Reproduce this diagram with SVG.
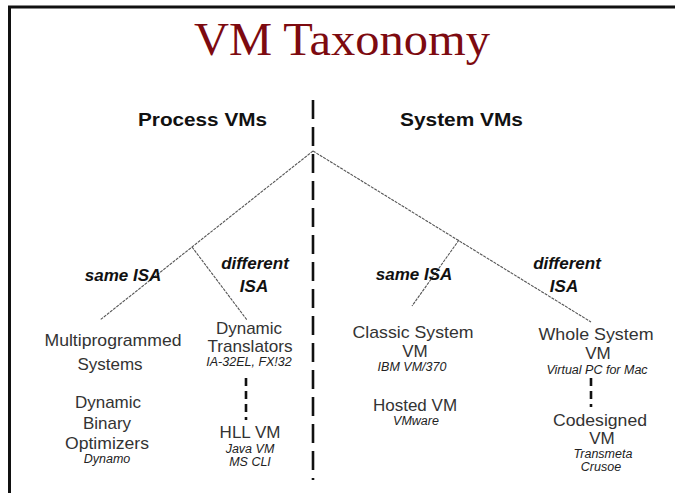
<svg xmlns="http://www.w3.org/2000/svg" width="675" height="493" viewBox="0 0 675 493">
<style>
.frame{fill:none;stroke:#111;stroke-width:3}
.title{font-family:"Liberation Serif","Times New Roman",serif;font-size:46px;fill:#7d0a10}
.head{font-family:"Liberation Sans",Arial,sans-serif;font-size:18px;font-weight:bold;fill:#111}
.isa{font-family:"Liberation Sans",Arial,sans-serif;font-size:17px;font-weight:bold;font-style:italic;fill:#111;text-anchor:middle}
.lbl{font-family:"Liberation Sans",Arial,sans-serif;font-size:17px;fill:#333;text-anchor:middle}
.ex{font-family:"Liberation Sans",Arial,sans-serif;font-size:12.5px;font-style:italic;fill:#222;text-anchor:middle}
.tree{stroke:#555;stroke-width:1.1;fill:none;stroke-dasharray:3 1}
.divider{stroke:#111;stroke-width:2.6;stroke-dasharray:19 8;fill:none}
.link{stroke:#111;stroke-width:2.6;stroke-dasharray:8 5;fill:none}
</style>
<rect width="675" height="493" fill="#fff"/>
<rect class="frame" x="9.5" y="7" width="700" height="520"/>
<text class="title" x="194" y="55" textLength="296" lengthAdjust="spacingAndGlyphs">VM Taxonomy</text>
<text class="head" x="138" y="126" textLength="129" lengthAdjust="spacingAndGlyphs">Process VMs</text>
<text class="head" x="400" y="126" textLength="123" lengthAdjust="spacingAndGlyphs">System VMs</text>
<g id="connectors">
<line class="divider" x1="313" y1="100" x2="313" y2="480"/>
<line class="tree" x1="313" y1="151" x2="100" y2="320"/>
<line class="tree" x1="192" y1="247" x2="247" y2="320"/>
<line class="tree" x1="313" y1="151" x2="591" y2="322"/>
<line class="tree" x1="459" y1="240" x2="412" y2="306"/>
<line class="link" x1="246" y1="378" x2="246" y2="420"/>
<line class="link" x1="591" y1="378" x2="591" y2="407"/>
</g>
<g id="label-same-isa-left"><text class="isa" x="123" y="281">same ISA</text></g>
<g id="label-different-isa-left"><text class="isa" x="255" y="269">different</text><text class="isa" x="254" y="292">ISA</text></g>
<g id="label-same-isa-right"><text class="isa" x="414" y="280">same ISA</text></g>
<g id="label-different-isa-right"><text class="isa" x="567" y="269">different</text><text class="isa" x="564" y="292">ISA</text></g>
<g id="node-multiprogrammed"><text class="lbl" x="113" y="346" textLength="137" lengthAdjust="spacingAndGlyphs">Multiprogrammed</text><text class="lbl" x="110" y="370">Systems</text></g>
<g id="node-dbo"><text class="lbl" x="108" y="408">Dynamic</text><text class="lbl" x="107" y="429">Binary</text><text class="lbl" x="107" y="449" textLength="84" lengthAdjust="spacingAndGlyphs">Optimizers</text><text class="ex" x="107" y="463">Dynamo</text></g>
<g id="node-dyn-translators"><text class="lbl" x="249" y="334">Dynamic</text><text class="lbl" x="250" y="352" textLength="85" lengthAdjust="spacingAndGlyphs">Translators</text><text class="ex" x="249" y="366">IA-32EL, FX!32</text></g>
<g id="node-hll"><text class="lbl" x="250" y="438">HLL VM</text><text class="ex" x="250" y="453">Java VM</text><text class="ex" x="250" y="466">MS CLI</text></g>
<g id="node-classic"><text class="lbl" x="413" y="338" textLength="121" lengthAdjust="spacingAndGlyphs">Classic System</text><text class="lbl" x="415" y="357">VM</text><text class="ex" x="412" y="371">IBM VM/370</text></g>
<g id="node-hosted"><text class="lbl" x="415" y="411">Hosted VM</text><text class="ex" x="416" y="425">VMware</text></g>
<g id="node-whole"><text class="lbl" x="596" y="340" textLength="115" lengthAdjust="spacingAndGlyphs">Whole System</text><text class="lbl" x="598" y="359">VM</text><text class="ex" x="597" y="374">Virtual PC for Mac</text></g>
<g id="node-codesigned"><text class="lbl" x="600" y="426" textLength="94" lengthAdjust="spacingAndGlyphs">Codesigned</text><text class="lbl" x="602" y="444">VM</text><text class="ex" x="603" y="458">Transmeta</text><text class="ex" x="601" y="471">Crusoe</text></g>
</svg>
